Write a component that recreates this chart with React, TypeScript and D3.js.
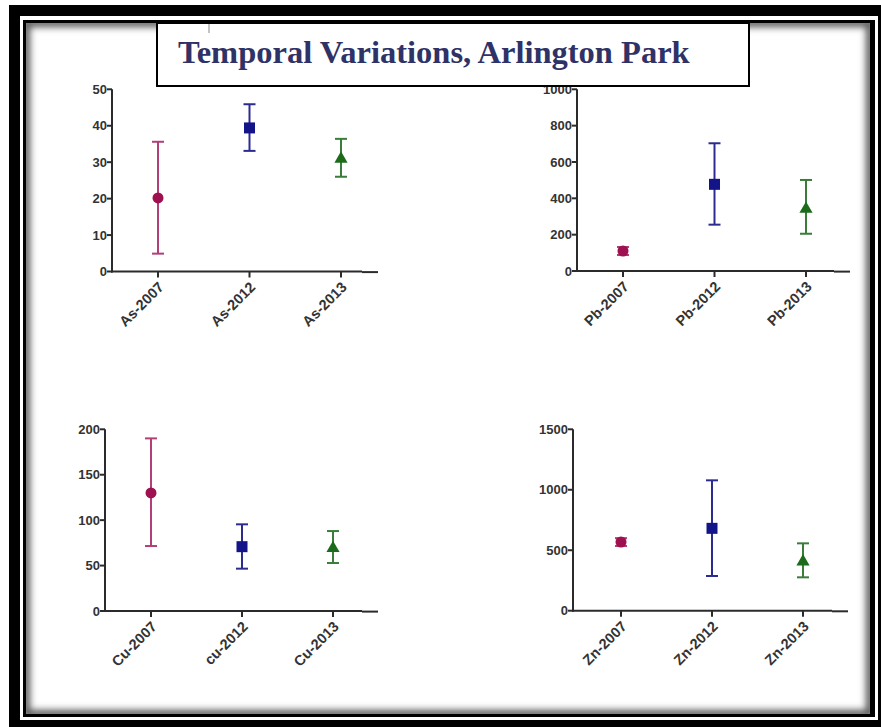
import React from "react";
import * as d3 from "d3";

const title = "Temporal Variations, Arlington Park";

const asCategories = ["As-2007", "As-2012", "As-2013"];
const asMeans = [20.2, 39.4, 30.9];
const asLower = [4.9, 33.1, 26.0];
const asUpper = [35.6, 45.9, 36.4];
const asTicks = [0, 10, 20, 30, 40, 50];

const pbCategories = ["Pb-2007", "Pb-2012", "Pb-2013"];
const pbMeans = [110, 477, 341];
const pbLower = [88, 255, 205];
const pbUpper = [132, 703, 501];
const pbTicks = [0, 200, 400, 600, 800, 1000];

const cuCategories = ["Cu-2007", "cu-2012", "Cu-2013"];
const cuMeans = [130, 70.8, 69];
const cuLower = [71.5, 46.6, 52.8];
const cuUpper = [190, 95.4, 88];
const cuTicks = [0, 50, 100, 150, 200];

const znCategories = ["Zn-2007", "Zn-2012", "Zn-2013"];
const znMeans = [568, 681, 405];
const znLower = [535, 287, 276];
const znUpper = [600, 1078, 557];
const znTicks = [0, 500, 1000, 1500];

const markerColors = ["#9e1050", "#141489", "#1b6b1b"];
const lineColors = ["#b13f78", "#2c2c90", "#3a7d3a"];
const shapes = ["circle", "square", "triangle"];

type PanelSpec = {
  categories: string[];
  means: number[];
  lower: number[];
  upper: number[];
  ticks: number[];
  axisX: number;
  yRange: [number, number];
  xRange: [number, number];
  axisEnd: number;
};

const panels: PanelSpec[] = [
  { categories: asCategories, means: asMeans, lower: asLower, upper: asUpper, ticks: asTicks, axisX: 112, yRange: [271.5, 89.3], xRange: [158, 341], axisEnd: 378 },
  { categories: pbCategories, means: pbMeans, lower: pbLower, upper: pbUpper, ticks: pbTicks, axisX: 577, yRange: [271, 89.3], xRange: [623, 806], axisEnd: 850 },
  { categories: cuCategories, means: cuMeans, lower: cuLower, upper: cuUpper, ticks: cuTicks, axisX: 105, yRange: [611, 429.3], xRange: [151, 333], axisEnd: 378 },
  { categories: znCategories, means: znMeans, lower: znLower, upper: znUpper, ticks: znTicks, axisX: 573, yRange: [610.7, 429.3], xRange: [621, 803], axisEnd: 848 },
];

const axisColor = "#2b2b2b";
const font = "'Liberation Sans', Arial, sans-serif";

function Panel({ p }: { p: PanelSpec }) {
  const y = d3.scaleLinear().domain([0, p.ticks[p.ticks.length - 1]]).range(p.yRange);
  const x = d3.scalePoint<string>().domain(p.categories).range(p.xRange);
  const y0 = y(0);
  const tri = d3.symbol().type(d3.symbolTriangle).size(75)();
  return (
    <g>
      <line x1={p.axisX} x2={p.axisX} y1={y0 + 1} y2={y(p.ticks[p.ticks.length - 1])} stroke={axisColor} strokeWidth={2} />
      <line x1={p.axisX - 1} x2={p.axisEnd - 16} y1={y0} y2={y0} stroke={axisColor} strokeWidth={2} />
      <line x1={p.axisEnd - 16} x2={p.axisEnd} y1={y0 + 0.6} y2={y0 + 0.6} stroke={axisColor} strokeWidth={2} />
      {p.ticks.map((t) => (
        <g key={t}>
          <line x1={p.axisX - 5} x2={p.axisX} y1={y(t)} y2={y(t)} stroke={axisColor} strokeWidth={2} />
          <text x={p.axisX - 5} y={y(t)} dy="0.36em" textAnchor="end" fontFamily={font} fontWeight="bold" fontSize={13} fill="#333">
            {t}
          </text>
        </g>
      ))}
      {p.categories.map((c, i) => {
        const cx = x(c)!;
        return (
          <g key={c}>
            <line x1={cx} x2={cx} y1={y0} y2={y0 + 6} stroke={axisColor} strokeWidth={2} />
            <text
              transform={`translate(${cx + 3},${y0 + 13}) rotate(-45)`}
              textAnchor="end"
              dy="0.35em"
              fontFamily={font}
              fontWeight="bold"
              fontSize={14.5}
              fill="#333"
            >
              {c}
            </text>
            <line x1={cx} x2={cx} y1={y(p.lower[i])} y2={y(p.upper[i])} stroke={lineColors[i]} strokeWidth={2} />
            <line x1={cx - 6} x2={cx + 6} y1={y(p.lower[i])} y2={y(p.lower[i])} stroke={lineColors[i]} strokeWidth={2} />
            <line x1={cx - 6} x2={cx + 6} y1={y(p.upper[i])} y2={y(p.upper[i])} stroke={lineColors[i]} strokeWidth={2} />
            {shapes[i] === "circle" && <circle cx={cx} cy={y(p.means[i])} r={5.5} fill={markerColors[i]} />}
            {shapes[i] === "square" && (
              <rect x={cx - 5.5} y={y(p.means[i]) - 5.5} width={11} height={11} fill={markerColors[i]} />
            )}
            {shapes[i] === "triangle" && (
              <path d={tri!} transform={`translate(${cx},${y(p.means[i])})`} fill={markerColors[i]} />
            )}
          </g>
        );
      })}
    </g>
  );
}

export default function App() {
  return (
    <div style={{ position: "absolute", left: 0, top: 0 }}>
      <svg width={881} height={727} style={{ display: "block" }}>
        <defs>
          <clipPath id="innerClip">
            <rect x={26} y={23} width={844} height={691} />
          </clipPath>
          <filter id="blur" x="-10%" y="-10%" width="120%" height="120%">
            <feGaussianBlur stdDeviation={3.5} />
          </filter>
        </defs>
        <rect x={0} y={0} width={881} height={727} fill="#fff" />
        <rect x={9} y={5} width={880} height={730} fill="#000" />
        <rect x={20} y={16} width={858} height={704} fill="#fff" />
        <rect x={23} y={20} width={852} height={697} fill="#000" />
        <rect x={26} y={23} width={844} height={691} fill="#fff" />
        <g clipPath="url(#innerClip)">
          <rect x={26} y={23} width={844} height={691} fill="none" stroke="#555" strokeWidth={8} filter="url(#blur)" />
        </g>
        {panels.map((p, i) => (
          <Panel key={i} p={p} />
        ))}
        <rect x={157} y={23} width={592} height={63} fill="#fff" stroke="#000" strokeWidth={2} />
        <line x1={209} x2={209} y1={24} y2={33} stroke="#888" strokeWidth={1} />
        <text x={178} y={63} fontFamily="'Liberation Serif', 'Times New Roman', serif" fontWeight="bold" fontSize={32.5} fill="#2f3266">
          {title}
        </text>
      </svg>
    </div>
  );
}
